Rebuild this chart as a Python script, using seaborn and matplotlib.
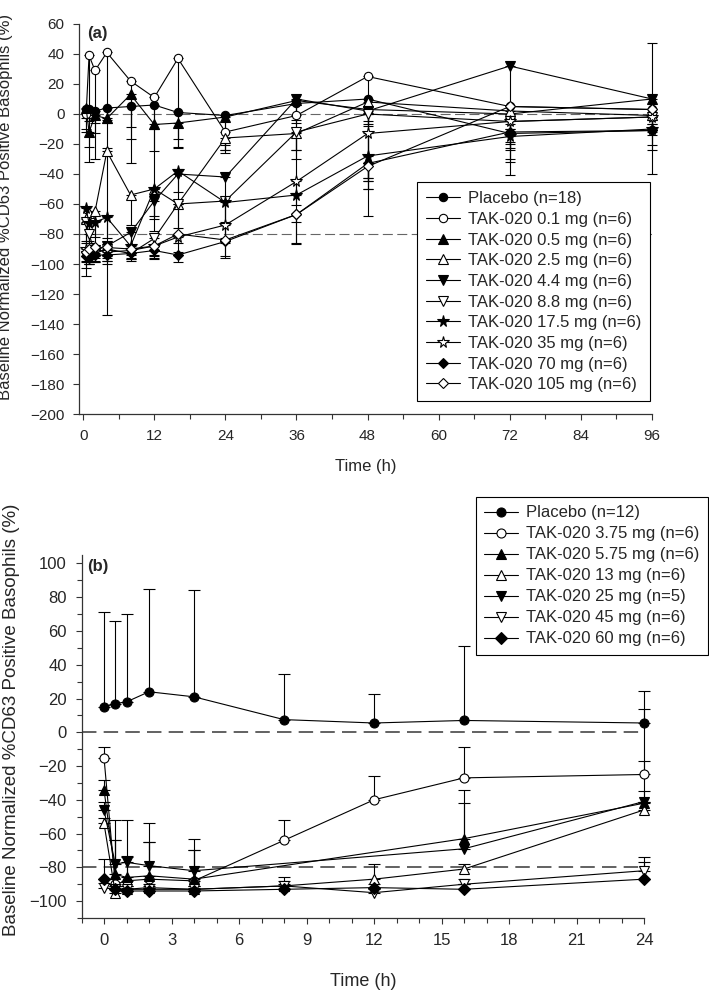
import numpy as np
import pandas as pd
import matplotlib
matplotlib.use('Agg')
import matplotlib.pyplot as plt
from matplotlib.ticker import MultipleLocator
import seaborn as sns

# ---------------- panel (a) data ----------------
time_a = [0.5, 1, 2, 4, 8, 12, 16, 24, 36, 48, 72, 96]
labels_a = ['Placebo (n=18)', 'TAK-020 0.1 mg (n=6)', 'TAK-020 0.5 mg (n=6)',
            'TAK-020 2.5 mg (n=6)', 'TAK-020 4.4 mg (n=6)', 'TAK-020 8.8 mg (n=6)',
            'TAK-020 17.5 mg (n=6)', 'TAK-020 35 mg (n=6)', 'TAK-020 70 mg (n=6)',
            'TAK-020 105 mg (n=6)']
placebo_a = [3, 3, 2, 4, 5, 6, 1, -1, 7, 10, -13, -11]
tak_0_1 = [0, 39, 29, 41, 22, 11, 37, -12, -1, 25, 5, 3]
tak_0_5 = [4, -12, -1, -3, 13, -7, -6, -2, 9, 3, 0, 10]
tak_2_5 = [-70, -66, -65, -25, -54, -50, -60, -16, -13, 8, 2, -1]
tak_4_4 = [-95, -94, -91, -88, -79, -58, -40, -42, 10, 2, 32, 10]
tak_8_8 = [-72, -80, -93, -90, -93, -83, -60, -58, -12, 0, -5, -2]
tak_17_5 = [-63, -73, -72, -69, -88, -50, -38, -59, -54, -28, -15, -10]
tak_35 = [-90, -92, -90, -92, -91, -88, -82, -74, -45, -13, -5, -2]
tak_70 = [-95, -96, -94, -94, -93, -91, -94, -85, -67, -33, -12, -11]
tak_105 = [-92, -90, -89, -89, -90, -88, -80, -84, -67, -35, 5, 3]

# lower SD bars
err_placebo_a = [6, 8, 8, 10, 14, 16, 18, 20, 11, 15, 17, 29]
err_tak_0_1 = [12, 71, 59, 45, 55, 65, 60, 12, 23, 93, 28, 10]
err_tak_0_5 = [14, 10, 12, 20, 30, 18, 16, 22, 15, 10, 10, 12]
err_tak_2_5 = [15, 20, 25, 109, 20, 20, 20, 10, 17, 51, 12, 10]
err_tak_4_4 = [8, 6, 8, 10, 12, 20, 18, 30, 34, 10, 73, 14]
err_tak_8_8 = [14, 10, 6, 6, 5, 12, 16, 25, 41, 43, 15, 12]
err_tak_17_5 = [10, 12, 10, 14, 6, 18, 14, 25, 18, 22, 9, 11]
err_tak_35 = [8, 8, 6, 8, 6, 8, 10, 12, 16, 32, 14, 10]
err_tak_70 = [4, 4, 4, 4, 4, 6, 5, 10, 19, 17, 20, 13]
err_tak_105 = [16, 8, 6, 6, 6, 6, 6, 12, 20, 10, 12, 10]
up_err_tak_0_5 = [0, 0, 0, 0, 0, 0, 0, 0, 0, 0, 0, 37]

# ---------------- panel (b) data ----------------
time_b = [0, 0.5, 1, 2, 4, 8, 12, 16, 24]
labels_b = ['Placebo (n=12)', 'TAK-020 3.75 mg (n=6)', 'TAK-020 5.75 mg (n=6)',
            'TAK-020 13 mg (n=6)', 'TAK-020 25 mg (n=5)', 'TAK-020 45 mg (n=6)',
            'TAK-020 60 mg (n=6)']
placebo_b = [15, 17, 18, 24, 21, 7.5, 5.5, 7, 5.5]
tak_3_75 = [-15, -90, -88, -87, -88, -64, -40, -27, -25]
tak_5_75 = [-34, -84, -86, -85, -87, np.nan, np.nan, -63, -42]
tak_13 = [-54, -95, -93, -92, -93, -91, -87, -81, -46]
tak_25 = [-46, -78, -77, -79, -82, np.nan, np.nan, -69, -41]
tak_45 = [-92, -93, -93, -93, -93, -91, -95, -90, -82]
tak_60 = [-87, -93, -94, -94, -94, -93, -92, -93, -87]

# upper SD bars
err_placebo_b = [56, 49, 52, 61, 63, 27, 17, 44, 19]
err_tak_3_75 = [6, 38, 36, 33, 25, 12, 14, 18, 39]
err_tak_5_75 = [6, 20, 12, 20, 17, np.nan, np.nan, 29, 7]
err_tak_13 = [3, 2, 2, 2, 2, 3, 9, 3, 5]
err_tak_25 = [5, 14, 4, 14, 12, np.nan, np.nan, 27, 24]
err_tak_45 = [3, 2, 2, 2, 2, 5, 2, 3, 8]
err_tak_60 = [12, 2, 2, 2, 2, 3, 2, 3, 10]

# marker styles (marker, face, size)
styles_a = [('o', 'black', 6), ('o', 'white', 6), ('^', 'black', 6.5), ('^', 'white', 6.5),
            ('v', 'black', 6.5), ('v', 'white', 6.5), ('*', 'black', 8.5), ('*', 'white', 8.5),
            ('D', 'black', 5.5), ('D', 'white', 5.5)]
styles_b = [('o', 'black', 6.5), ('o', 'white', 6.5), ('^', 'black', 7), ('^', 'white', 7),
            ('v', 'black', 7), ('v', 'white', 7), ('D', 'black', 6)]

sns.set_theme(style='ticks')
plt.rcParams['font.family'] = ['Liberation Sans', 'DejaVu Sans']
plt.rcParams['axes.edgecolor'] = '#333333'
plt.rcParams['axes.linewidth'] = 0.9


def draw_series(ax, t, y, lo, hi, style, label, cap):
    marker, face, ms = style
    df = pd.DataFrame({'t': t, 'y': y, 'lo': lo, 'hi': hi}).dropna()
    sns.lineplot(data=df, x='t', y='y', ax=ax, color='black', lw=0.8,
                 marker=marker, markersize=ms, markerfacecolor=face,
                 mec='black', mew=0.8, label=label, zorder=4, clip_on=False)
    ax.errorbar(df['t'], df['y'], yerr=[df['lo'].values, df['hi'].values],
                fmt='none', ecolor='black', elinewidth=0.8, capsize=cap,
                capthick=0.8, zorder=3, clip_on=False)


fig = plt.figure(figsize=(7.09, 9.94), dpi=100)
ax_a = fig.add_axes([79 / 709, 1 - 414 / 994, 573 / 709, 390 / 994])
ax_b = fig.add_axes([81.5 / 709, 1 - 918 / 994, 562.5 / 709, 363 / 994])

# ---- panel (a)
series_a = [placebo_a, tak_0_1, tak_0_5, tak_2_5, tak_4_4, tak_8_8,
            tak_17_5, tak_35, tak_70, tak_105]
errs_a = [err_placebo_a, err_tak_0_1, err_tak_0_5, err_tak_2_5, err_tak_4_4,
          err_tak_8_8, err_tak_17_5, err_tak_35, err_tak_70, err_tak_105]
zeros_a = [0] * len(time_a)
for i, (vals, err) in enumerate(zip(series_a, errs_a)):
    up = up_err_tak_0_5 if i == 2 else zeros_a
    draw_series(ax_a, time_a, vals, err, up, styles_a[i], labels_a[i], 3.5)

for yref in (0, -80):
    ax_a.axhline(yref, color='#666666', lw=0.8, ls=(0, (9, 4)), zorder=1)

ax_a.set_xlim(-0.7, 96)
ax_a.set_ylim(-200, 60)
ax_a.xaxis.set_major_locator(MultipleLocator(12))
ax_a.xaxis.set_minor_locator(MultipleLocator(6))
ax_a.yaxis.set_major_locator(MultipleLocator(20))
ax_a.set_xlabel('Time (h)', fontsize=12, labelpad=12)
ax_a.set_ylabel('Baseline Normalized %CD63 Positive Basophils (%)', fontsize=12)
ax_a.yaxis.set_label_coords(-0.115, 0.532)
ax_a.text(0.015, 0.995, '(a)', transform=ax_a.transAxes, fontsize=12,
          fontweight='bold', ha='left', va='top')
leg_a = ax_a.legend(loc='upper left', bbox_to_anchor=(417 / 709, 1 - 182 / 994),
                    bbox_transform=fig.transFigure, frameon=True, fancybox=False,
                    edgecolor='black', framealpha=1, fontsize=12, handlelength=2.0,
                    handletextpad=0.5, labelspacing=0.34, borderpad=0.55,
                    borderaxespad=0)
leg_a.get_frame().set_linewidth(0.8)

# ---- panel (b)
series_b = [placebo_b, tak_3_75, tak_5_75, tak_13, tak_25, tak_45, tak_60]
errs_b = [err_placebo_b, err_tak_3_75, err_tak_5_75, err_tak_13, err_tak_25,
          err_tak_45, err_tak_60]
for i, (vals, err) in enumerate(zip(series_b, errs_b)):
    lo = [0 if not np.isnan(e) else np.nan for e in err]
    draw_series(ax_b, time_b, vals, lo, err, styles_b[i], labels_b[i], 4.3)

for yref in (0, -80):
    ax_b.axhline(yref, color='#555555', lw=1.3, ls=(0, (8, 4)), zorder=1)

ax_b.set_xlim(-1, 24)
ax_b.set_ylim(-110, 105)
ax_b.xaxis.set_major_locator(MultipleLocator(3))
ax_b.xaxis.set_minor_locator(MultipleLocator(1))
ax_b.yaxis.set_major_locator(MultipleLocator(20))
ax_b.yaxis.set_minor_locator(MultipleLocator(10))
ax_b.set_xlabel('Time (h)', fontsize=13, labelpad=18)
ax_b.set_ylabel('Baseline Normalized %CD63 Positive Basophils (%)', fontsize=13.5)
ax_b.yaxis.set_label_coords(-0.11, 0.545)
ax_b.text(0.01, 0.99, '(b)', transform=ax_b.transAxes, fontsize=12,
          fontweight='bold', ha='left', va='top')
leg_b = ax_b.legend(loc='upper left', bbox_to_anchor=(476 / 709, 1 - 497 / 994),
                    bbox_transform=fig.transFigure, frameon=True, fancybox=False,
                    edgecolor='black', framealpha=1, fontsize=12, handlelength=2.0,
                    handletextpad=0.5, labelspacing=0.36, borderpad=0.5,
                    borderaxespad=0)
leg_b.get_frame().set_linewidth(0.8)

for ax in (ax_a, ax_b):
    sns.despine(ax=ax)
    ax.tick_params(which='both', direction='out', color='#333333', width=0.8)
    ax.tick_params(which='major', length=4.5, labelsize=11, pad=6)
    ax.tick_params(which='minor', length=3.5)
    ax.grid(False)
ax_b.tick_params(which='major', labelsize=12)

fig.savefig('out.png', dpi=100)
